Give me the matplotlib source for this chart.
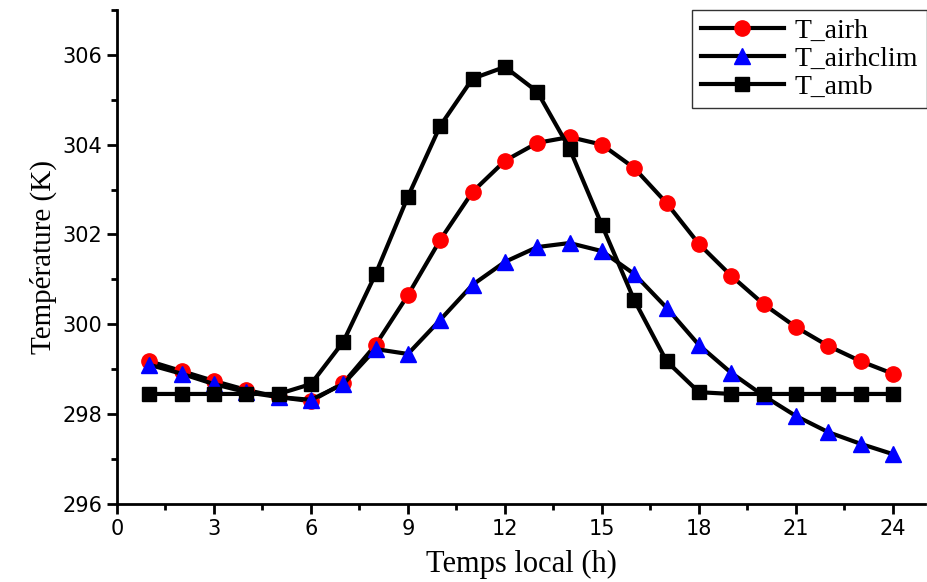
import matplotlib
matplotlib.use("Agg")
import matplotlib.pyplot as plt
from matplotlib.ticker import MultipleLocator

hours = list(range(1, 25))
t_airh = [299.18, 298.96, 298.74, 298.54, 298.38, 298.29, 298.69, 299.54, 300.65, 301.88,
          302.95, 303.64, 304.04, 304.17, 304.00, 303.48, 302.70, 301.79, 301.08, 300.45,
          299.94, 299.52, 299.18, 298.90]
t_airhclim = [299.10, 298.90, 298.67, 298.49, 298.38, 298.32, 298.67, 299.45, 299.34, 300.10,
              300.88, 301.39, 301.72, 301.81, 301.63, 301.12, 300.37, 299.54, 298.92, 298.41,
              297.96, 297.60, 297.34, 297.11]
t_amb = [298.45, 298.45, 298.45, 298.45, 298.45, 298.67, 299.61, 301.12, 302.84, 304.42,
         305.47, 305.73, 305.18, 303.91, 302.21, 300.54, 299.18, 298.49, 298.45, 298.45,
         298.45, 298.45, 298.45, 298.45]

serif = "Liberation Serif"

fig = plt.figure(figsize=(9.28, 5.82), dpi=100)
ax = fig.add_axes([0.126, 0.134, 0.871, 0.849])

ax.plot(hours, t_airh, color="black", lw=3, marker="o", ms=11, mfc="red", mec="red", label="T_airh")
ax.plot(hours, t_airhclim, color="black", lw=3, marker="^", ms=12, mfc="blue", mec="blue", label="T_airhclim")
ax.plot(hours, t_amb, color="black", lw=3, marker="s", ms=10, mfc="black", mec="black", label="T_amb")

ax.set_xlim(0, 25)
ax.set_ylim(296, 307)
ax.xaxis.set_major_locator(MultipleLocator(3))
ax.xaxis.set_minor_locator(MultipleLocator(1.5))
ax.yaxis.set_major_locator(MultipleLocator(2))
ax.yaxis.set_minor_locator(MultipleLocator(1))
ax.spines["top"].set_visible(False)
ax.spines["right"].set_visible(False)
ax.spines["left"].set_linewidth(2)
ax.spines["bottom"].set_linewidth(2)
ax.tick_params(which="major", direction="out", length=7, width=2, labelsize=15)
ax.tick_params(which="minor", direction="out", length=4, width=2)

ax.set_xlabel("Temps local (h)", fontfamily=serif, fontsize=22, labelpad=8)
ax.set_ylabel("Température (K)", fontfamily=serif, fontsize=21, labelpad=4)

leg = ax.legend(loc="upper right", bbox_to_anchor=(1.002, 1.0), prop={"family": serif, "size": 20},
                fancybox=False, edgecolor="black", handlelength=3, borderaxespad=0,
                labelspacing=0.1, borderpad=0.3, handletextpad=0.4)
leg.get_frame().set_linewidth(1)

fig.savefig("out.png", dpi=100)
